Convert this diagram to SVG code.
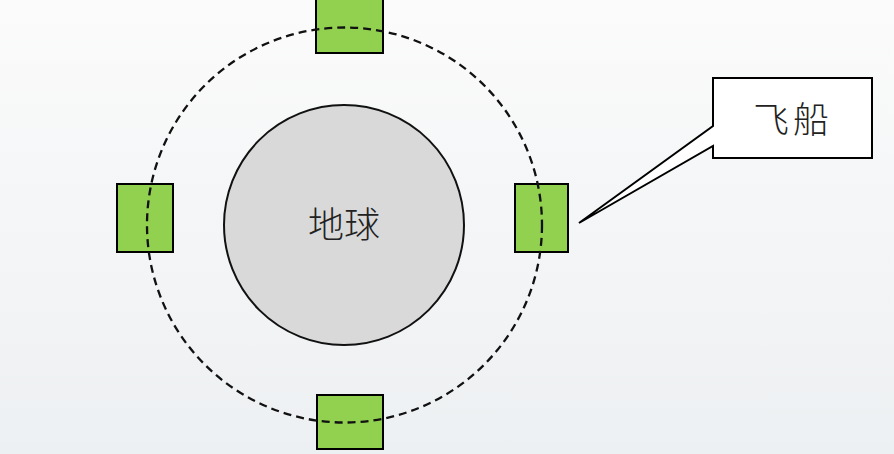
<svg xmlns="http://www.w3.org/2000/svg" width="894" height="454" viewBox="0 0 894 454">
<style>
.ship{fill:#92d050;stroke:#000;stroke-width:2}
.lbl{font-family:"Noto Sans CJK SC","Liberation Serif",serif;fill:#222;font-weight:300}
</style>
<defs>
<linearGradient id="bg" x1="0" y1="0" x2="0" y2="1">
<stop offset="0" stop-color="#fbfbfb"/>
<stop offset="1" stop-color="#edf0f2"/>
</linearGradient>
</defs>
<rect width="894" height="454" fill="url(#bg)"/>
<g id="earth">
<circle cx="344" cy="225" r="120" fill="#d9d9d9" stroke="#111" stroke-width="2"/>
<text class="lbl" x="344" y="238" font-size="36" text-anchor="middle">地球</text>
</g>
<g id="ship-top"><rect class="ship" x="316" y="-1" width="67" height="54"/></g>
<g id="ship-left"><rect class="ship" x="117" y="184" width="56" height="68"/></g>
<g id="ship-right"><rect class="ship" x="515" y="184" width="53" height="68"/></g>
<g id="ship-bottom"><rect class="ship" x="317" y="395" width="66" height="54"/></g>
<g id="connectors">
<circle cx="344.5" cy="225" r="197.5" fill="none" stroke="#111" stroke-width="2.3" stroke-dasharray="8,5"/>
</g>
<g id="callout">
<polygon points="713,78 872,78 872,158 713,158 713,146 579,223 713,126" fill="#fff" stroke="#000" stroke-width="2"/>
<text class="lbl" x="793" y="133" font-size="36" text-anchor="middle" letter-spacing="4">飞船</text>
</g>
</svg>
